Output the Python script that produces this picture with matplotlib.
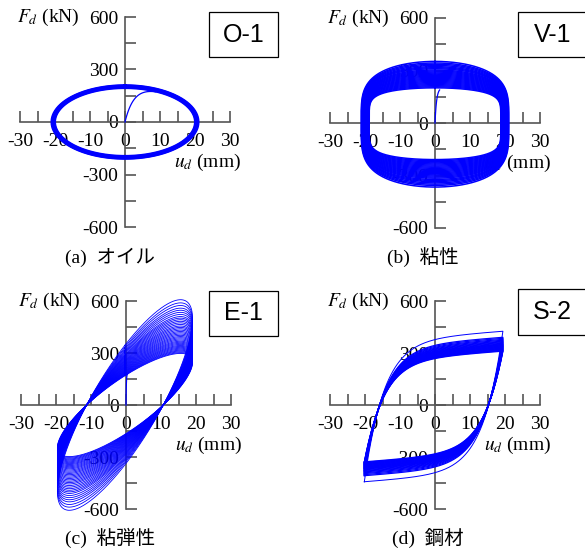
import numpy as np
import matplotlib.pyplot as plt
from matplotlib.patches import Rectangle

plt.rcParams['font.family'] = ['Liberation Serif', 'Noto Sans CJK JP']
plt.rcParams['mathtext.fontset'] = 'stix'
plt.rcParams['axes.unicode_minus'] = False

W, H = 585, 553
BLUE = '#0000ff'
GRAY = '#555555'

# axis ticks
x_major = [-30, -20, -10, 0, 10, 20, 30]
x_minor = [-25, -15, -5, 5, 15, 25]
y_major = [-600, -300, 0, 300, 600]
y_minor = [-450, -150, 150, 450]

panel_tags = ['O-1', 'V-1', 'E-1', 'S-2']
captions = ['(a)  オイル', '(b)  粘性', '(c)  粘弾性', '(d)  鋼材']

# O-1 oil damper: ellipse per cycle (disp amp mm, force amp kN)
o1_disp = [20.9, 20.7, 20.55, 20.4, 20.25, 20.1]
o1_force = [208, 206, 204, 201, 199, 196]

# V-1 viscous damper: force at u=0 per cycle and disp amplitude
v1_force = [352, 343, 336, 329, 322, 316, 310, 303, 297, 291, 285, 279, 273,
            267, 261, 255, 249, 243, 237, 231, 225, 219, 213, 207, 201]
v1_disp = [21.1, 21.0, 20.9, 20.8, 20.7, 20.6, 20.5, 20.4, 20.3, 20.2, 20.1,
           20.0, 19.9, 19.8, 19.7, 19.6, 19.5, 19.4, 19.3, 19.2, 19.1, 19.0,
           18.95, 18.9, 18.8]
v1_alpha = (0.5, 0.34)   # velocity exponent, first / last cycle
v1_neg = 1.04

# E-1 viscoelastic: per-cycle scale of storage / loss force (kN at first cycle)
e1_storage = 500
e1_loss = 345
e1_disp = 19.3
e1_scale = [1.0, 0.97, 0.945, 0.92, 0.90, 0.88, 0.86, 0.84, 0.825, 0.81,
            0.795, 0.78, 0.765, 0.75, 0.737, 0.724, 0.711, 0.698, 0.686,
            0.674, 0.662, 0.650, 0.639, 0.628, 0.617, 0.606, 0.596, 0.586,
            0.576, 0.566, 0.557, 0.548, 0.539, 0.530, 0.521, 0.513, 0.505,
            0.497, 0.49]

# S-2 steel damper: yield force per cycle (kN)
s2_fy = [405, 370, 364, 358, 353, 348, 344, 340, 336, 332, 329, 326, 323,
         320, 317, 314, 311, 308, 305, 302, 299, 296, 293, 290]
s2_disp = 19.8
s2_uy = 5.5
s2_kp = 1.5

fig = plt.figure(figsize=(W / 100, H / 100), dpi=100)


def add_panel(left, right, top, bottom):
    ax = fig.add_axes([left / W, 1 - bottom / H, (right - left) / W, (bottom - top) / H])
    ax.set_xlim(-30, 30)
    ax.set_ylim(-600, 600)
    ax.patch.set_visible(False)
    for s in ['top', 'right']:
        ax.spines[s].set_visible(False)
    for s in ['left', 'bottom']:
        ax.spines[s].set_position(('data', 0))
        ax.spines[s].set_color(GRAY)
        ax.spines[s].set_linewidth(1.2)
    ax.set_xticks(x_major)
    ax.set_xticks(x_minor, minor=True)
    ax.set_yticks(y_major)
    ax.set_yticks(y_minor, minor=True)
    ax.tick_params(which='both', direction='in', length=8, width=1.2,
                   color=GRAY, labelsize=14)
    ax.tick_params(axis='x', pad=8)
    ax.tick_params(axis='y', pad=5)
    ax.text(-22, 600, r'$F_d$ (kN)', fontsize=14, ha='center', va='center')
    ax.text(23.5, -232, r'$u_d$ (mm)', fontsize=14, ha='center', va='center')
    return ax


def tag_box(x0, y0, x1, y1, label):
    fig.add_artist(Rectangle((x0 / W, 1 - y1 / H), (x1 - x0) / W, (y1 - y0) / H,
                             transform=fig.transFigure, fill=False,
                             edgecolor='black', lw=0.9))
    fig.text((x0 + x1) / 2 / W, 1 - (y0 + y1) / 2 / H, label,
             family='Liberation Sans', fontsize=18, ha='center', va='center')


axes = [add_panel(20, 230, 17, 227), add_panel(330, 540, 18, 228),
        add_panel(21, 231, 301, 509), add_panel(330, 540, 301, 509)]

t = np.linspace(0, 2 * np.pi, 600)

# (a) O-1
ax = axes[0]
for A, F0 in zip(o1_disp, o1_force):
    ax.plot(A * np.sin(t), F0 * np.cos(t), color=BLUE, lw=2.0, zorder=3, clip_on=False)
t0 = np.linspace(0, 0.45, 80)
ax.plot(o1_disp[-1] * np.sin(t0), o1_force[-1] * np.cos(t0) * (1 - np.exp(-t0 / 0.12)),
        color=BLUE, lw=0.9, zorder=3)

# (b) V-1
ax = axes[1]
alphas = np.linspace(v1_alpha[0], v1_alpha[1], len(v1_force))
for A, F0, al in zip(v1_disp, v1_force, alphas):
    c = np.cos(t)
    f = F0 * np.sign(c) * np.abs(c) ** al
    f = np.where(f < 0, f * v1_neg, f)
    ax.plot(A * np.sin(t), f, color=BLUE, lw=1.1, zorder=3, clip_on=False)
t0 = np.linspace(0, 0.07, 40)
ax.plot(v1_disp[-1] * np.sin(t0), v1_force[-1] * (1 - np.exp(-t0 / 0.025)),
        color=BLUE, lw=0.9, zorder=3)

# (c) E-1
ax = axes[2]
for s in e1_scale:
    x = e1_disp * np.sin(t) - 0.3
    f = s * (e1_storage * np.sin(t) + e1_loss * np.cos(t))
    ax.plot(x, f, color=BLUE, lw=0.6, zorder=3, clip_on=False)
t0 = np.linspace(0, 0.02, 30)
ax.plot(e1_disp * np.sin(t0), 180 * (1 - np.exp(-t0 / 0.005)), color=BLUE, lw=0.9, zorder=3)

# (d) S-2  (Bouc-Wen type loop)
ax = axes[3]
npc = 500
n_cyc = len(s2_fy)
tt = np.linspace(-np.pi / 2, -np.pi / 2 + 2 * np.pi * n_cyc, npc * n_cyc + 1)
xs = s2_disp * np.sin(tt) - 0.4
z = np.zeros_like(xs)
z[0] = -1.0
for k in range(1, len(xs)):
    dx = xs[k] - xs[k - 1]
    zp = z[k - 1]
    z[k] = zp + dx / s2_uy * (1 - abs(zp) * (0.95 * np.sign(dx * zp) + 0.05))
for i, fy in enumerate(s2_fy):
    sl = slice(i * npc, (i + 1) * npc + 1)
    f = s2_kp * xs[sl] + fy * z[sl] - 8
    ax.plot(xs[sl], f, color=BLUE, lw=0.9 if i else 0.7, zorder=3, clip_on=False)

tag_box(209, 12, 278, 57, panel_tags[0])
tag_box(518, 12, 587, 57, panel_tags[1])
tag_box(209, 291, 278, 336, panel_tags[2])
tag_box(518, 289, 587, 335, panel_tags[3])

cap_pos = [(65, 257), (387, 257), (65, 538), (392, 538)]
for (cx, cy), cap in zip(cap_pos, captions):
    fig.text(cx / W, 1 - cy / H, cap, fontsize=14, ha='left', va='center')

fig.savefig('out.png', dpi=100)
